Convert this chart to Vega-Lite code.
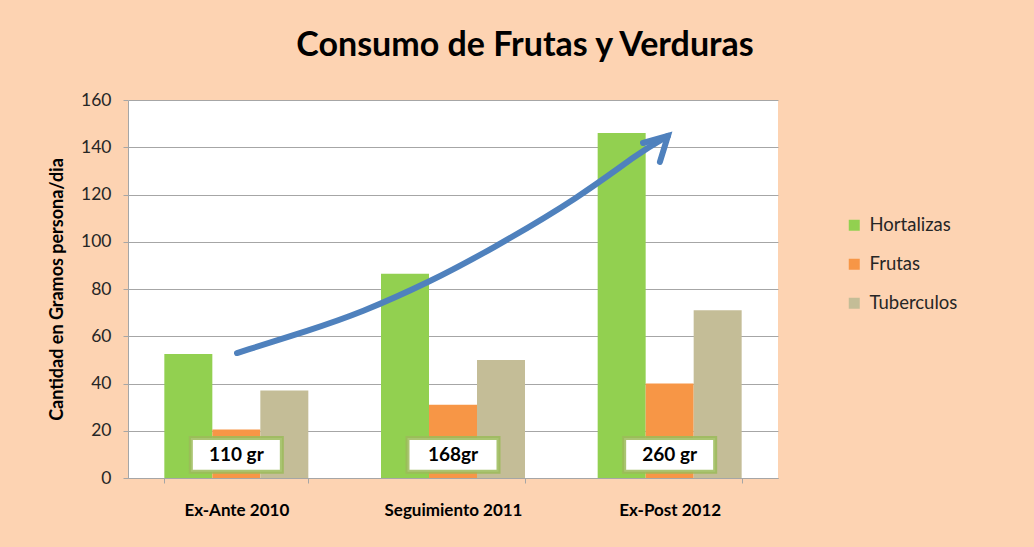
{
  "$schema": "https://vega.github.io/schema/vega-lite/v6.json",
  "autosize": "none",
  "width": 650,
  "height": 378,
  "padding": {"left": 128, "top": 100, "right": 256, "bottom": 69},
  "background": "#fdd3b2",
  "title": {"text": "Consumo de Frutas y Verduras", "font": "Lato", "fontSize": 34, "fontWeight": "bold", "color": "#000000", "anchor": "middle", "frame": "group", "dx": 72, "baseline": "alphabetic", "offset": 1},
  "config": {
    "font": "Lato",
    "view": {"fill": "#ffffff", "stroke": null},
    "axis": {"gridColor": "#a6a6a6", "domainColor": "#a6a6a6", "tickColor": "#a6a6a6", "tickSize": 5, "labelColor": "#262626", "titleColor": "#000000"}
  },
  "datasets": {
    "consumo": [
      {"periodo": "Ex-Ante 2010", "tipo": "Hortalizas", "gramos": 52.5},
      {"periodo": "Ex-Ante 2010", "tipo": "Frutas", "gramos": 20.5},
      {"periodo": "Ex-Ante 2010", "tipo": "Tuberculos", "gramos": 37},
      {"periodo": "Seguimiento 2011", "tipo": "Hortalizas", "gramos": 86.5},
      {"periodo": "Seguimiento 2011", "tipo": "Frutas", "gramos": 31},
      {"periodo": "Seguimiento 2011", "tipo": "Tuberculos", "gramos": 50},
      {"periodo": "Ex-Post 2012", "tipo": "Hortalizas", "gramos": 146},
      {"periodo": "Ex-Post 2012", "tipo": "Frutas", "gramos": 40},
      {"periodo": "Ex-Post 2012", "tipo": "Tuberculos", "gramos": 71}
    ],
    "totales": [
      {"periodo": "Ex-Ante 2010", "etiqueta": "110 gr", "y0": 2.6, "y1": 16.9, "ym": 9.6},
      {"periodo": "Seguimiento 2011", "etiqueta": "168gr", "y0": 2.6, "y1": 16.9, "ym": 9.6},
      {"periodo": "Ex-Post 2012", "etiqueta": "260 gr", "y0": 2.6, "y1": 16.9, "ym": 9.6}
    ],
    "flecha": [
      {"ax": 0.503, "ay": 52.9},
      {"ax": 0.84, "ay": 62.6},
      {"ax": 1.071, "ay": 69.8},
      {"ax": 1.394, "ay": 83.0},
      {"ax": 1.671, "ay": 96.5},
      {"ax": 2.086, "ay": 118.9},
      {"ax": 2.363, "ay": 138.0},
      {"ax": 2.492, "ay": 144.8}
    ],
    "punta": [
      {"ax": 2.377, "ay": 141.8, "o": 1},
      {"ax": 2.492, "ay": 144.8, "o": 2},
      {"ax": 2.455, "ay": 133.8, "o": 3}
    ]
  },
  "layer": [
    {
      "encoding": {
        "x": {"field": "periodo", "type": "nominal", "sort": ["Ex-Ante 2010", "Seguimiento 2011", "Ex-Post 2012"],
              "scale": {"paddingInner": 0.3354, "paddingOuter": 0.1677},
              "axis": {"title": null, "labelAngle": 0, "labelFontSize": 17, "labelFontWeight": "bold", "labelColor": "#000000", "tickBand": "extent", "labelPadding": 19}}
      },
      "layer": [
        {
          "data": {"name": "consumo"},
          "mark": {"type": "bar"},
          "encoding": {
            "xOffset": {"field": "tipo", "type": "nominal", "sort": ["Hortalizas", "Frutas", "Tuberculos"], "scale": {"paddingInner": 0, "paddingOuter": 0}},
            "y": {"field": "gramos", "type": "quantitative", "scale": {"domain": [0, 160]},
                  "axis": {"title": "Cantidad en Gramos persona/dia", "titleFontSize": 18, "titleFontWeight": "bold", "values": [0, 20, 40, 60, 80, 100, 120, 140, 160], "labelFontSize": 17.5, "labelPadding": 12, "titleX": -62, "titleY": 189, "titleBaseline": "bottom", "titleAngle": -90}},
            "color": {"field": "tipo", "type": "nominal", "sort": ["Hortalizas", "Frutas", "Tuberculos"],
                      "scale": {"domain": ["Hortalizas", "Frutas", "Tuberculos"], "range": ["#92d050", "#f79646", "#c4bd97"]},
                      "legend": {"title": null, "orient": "none", "legendX": 717, "legendY": 116, "symbolType": "square", "symbolSize": 121, "symbolStrokeWidth": 0, "labelFontSize": 18.5, "labelColor": "#262626", "rowPadding": 20, "labelOffset": 6}}
          }
        },
        {
          "data": {"name": "totales"},
          "mark": {"type": "bar", "width": 91, "fill": "#ffffff", "stroke": "#9bbb59", "strokeWidth": 4, "strokeOpacity": 0.85},
          "encoding": {
            "y": {"field": "y0", "type": "quantitative"},
            "y2": {"field": "y1"}
          }
        },
        {
          "data": {"name": "totales"},
          "mark": {"type": "text", "font": "Lato", "fontSize": 19, "fontWeight": "bold", "color": "#000000", "baseline": "middle"},
          "encoding": {
            "y": {"field": "ym", "type": "quantitative"},
            "text": {"field": "etiqueta"}
          }
        }
      ]
    },
    {
      "encoding": {
        "x": {"field": "ax", "type": "quantitative", "scale": {"domain": [0, 3], "nice": false, "zero": false}, "axis": null},
        "y": {"field": "ay", "type": "quantitative", "scale": {"domain": [0, 160]}}
      },
      "layer": [
        {
          "data": {"name": "flecha"},
          "mark": {"type": "line", "color": "#4f81bd", "strokeWidth": 6, "strokeCap": "round", "interpolate": "basis"}
        },
        {
          "data": {"name": "punta"},
          "mark": {"type": "line", "color": "#4f81bd", "strokeWidth": 6, "strokeCap": "round", "strokeJoin": "miter"},
          "encoding": {"order": {"field": "o", "type": "quantitative"}}
        }
      ]
    }
  ],
  "resolve": {"scale": {"x": "independent"}}
}
